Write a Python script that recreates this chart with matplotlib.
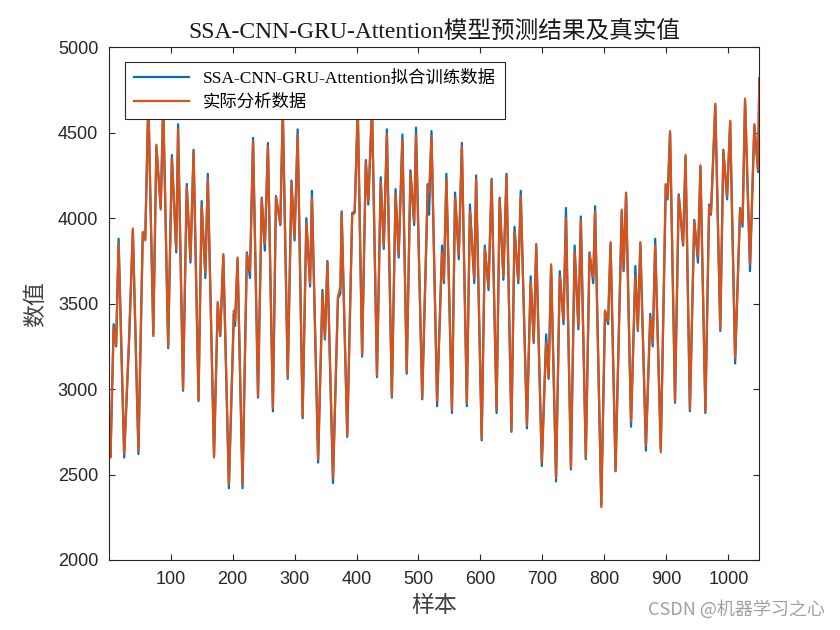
import matplotlib
matplotlib.use("Agg")
import matplotlib.pyplot as plt

# sample index of each turning point
sample_idx = [
    1, 3, 8, 12, 16, 25, 33, 39, 48, 55,
    59, 64, 72, 77, 84, 88, 96, 102, 109, 112,
    120, 126, 132, 137, 145, 150, 156, 160, 170, 176,
    180, 185, 194, 202, 204, 208, 216, 223, 228, 233,
    241, 247, 252, 257, 265, 270, 277, 281, 289, 295,
    300, 305, 313, 319, 325, 328, 338, 345, 349, 353,
    362, 370, 374, 376, 385, 393, 397, 402, 409, 415,
    419, 425, 433, 439, 444, 449, 457, 463, 468, 474,
    481, 487, 493, 496, 506, 515, 517, 521, 530, 538,
    541, 545, 554, 559, 565, 570, 578, 583, 590, 593,
    602, 607, 613, 618, 626, 631, 637, 642, 650, 655,
    661, 665, 675, 681, 686, 690, 699, 706, 710, 714,
    722, 728, 734, 738, 746, 752, 758, 762, 770, 776,
    782, 785, 795, 801, 806, 810, 818, 828, 831, 835,
    843, 850, 854, 858, 867, 874, 878, 882, 891, 899,
    902, 906, 914, 920, 927, 931, 938, 945, 951, 955,
    963, 969, 972, 979, 987, 992, 998, 1003, 1011, 1019,
    1023, 1027, 1035, 1042, 1048, 1050,
]

# actual values (orange)
actual = [
    2660, 2600, 3360, 3260, 3850, 2620, 3300, 3940, 2640, 3920,
    3870, 4700, 3310, 4430, 4050, 4680, 3250, 4350, 3820, 4520,
    3000, 4180, 3760, 4390, 2940, 4070, 3680, 4230, 2600, 3510,
    3320, 3790, 2440, 3460, 3400, 3770, 2440, 3790, 3690, 4450,
    2960, 4110, 3850, 4420, 2890, 4120, 3970, 4640, 3070, 4200,
    3890, 4490, 2840, 3970, 3620, 4120, 2590, 3560, 3300, 3740,
    2480, 3540, 3600, 4030, 2730, 4020, 4030, 4650, 3200, 4330,
    4100, 4660, 3080, 4210, 3840, 4490, 2960, 4140, 3790, 4460,
    3100, 4260, 3980, 4490, 2950, 4190, 4150, 4480, 2930, 3800,
    3640, 4230, 2880, 4120, 3790, 4420, 2920, 4040, 3650, 4230,
    2710, 3820, 3600, 4220, 2880, 4110, 3660, 4250, 2760, 3920,
    3640, 4130, 2790, 3630, 3280, 3850, 2570, 3270, 3070, 3730,
    2480, 3660, 3410, 4000, 2540, 3800, 3370, 3990, 2600, 3790,
    3650, 4040, 2310, 3460, 3400, 3860, 2520, 4050, 3700, 4150,
    2810, 3660, 3350, 3860, 2670, 3420, 3270, 3840, 2630, 4200,
    4120, 4510, 2930, 4130, 3850, 4370, 2880, 3980, 3780, 4310,
    2870, 4070, 4030, 4670, 3350, 4390, 4130, 4570, 3180, 4050,
    3970, 4700, 3730, 4550, 4280, 4820,
]

# fitted values (blue)
predicted = [
    2690, 2620, 3380, 3250, 3880, 2600, 3290, 3930, 2620, 3910,
    3880, 4690, 3320, 4420, 4060, 4670, 3240, 4370, 3800, 4550,
    2990, 4200, 3740, 4400, 2930, 4100, 3650, 4260, 2610, 3500,
    3310, 3780, 2420, 3440, 3370, 3760, 2420, 3800, 3650, 4470,
    2950, 4120, 3810, 4440, 2870, 4130, 3960, 4630, 3060, 4220,
    3870, 4520, 2830, 4000, 3600, 4160, 2570, 3580, 3290, 3750,
    2450, 3530, 3560, 4040, 2720, 4030, 4040, 4640, 3190, 4340,
    4080, 4650, 3070, 4240, 3820, 4520, 2950, 4170, 3770, 4490,
    3090, 4280, 3960, 4530, 2940, 4200, 4020, 4510, 2900, 3840,
    3620, 4260, 2860, 4150, 3760, 4440, 2900, 4080, 3620, 4250,
    2700, 3840, 3580, 4230, 2860, 4120, 3640, 4260, 2750, 3950,
    3620, 4160, 2770, 3660, 3270, 3840, 2550, 3320, 3060, 3720,
    2460, 3690, 3380, 4060, 2530, 3840, 3350, 4010, 2590, 3800,
    3620, 4070, 2320, 3450, 3380, 3850, 2520, 4040, 3690, 4140,
    2780, 3720, 3340, 3850, 2640, 3440, 3250, 3880, 2650, 4180,
    4110, 4500, 2920, 4140, 3840, 4360, 2870, 3990, 3740, 4300,
    2860, 4080, 4020, 4660, 3340, 4400, 4110, 4560, 3150, 4060,
    3950, 4690, 3690, 4540, 4270, 4810,
]

x_ticks = [100, 200, 300, 400, 500, 600, 700, 800, 900, 1000]
y_ticks = [2000, 2500, 3000, 3500, 4000, 4500, 5000]

serif = ["Liberation Serif", "Noto Sans CJK SC"]
cjk = ["Noto Sans CJK SC", "DejaVu Sans"]

fig = plt.figure(figsize=(8.4, 6.3), dpi=100)
ax = fig.add_axes([109.3 / 840, 1 - 560 / 630, 650 / 840, 512.7 / 630])

ax.plot(sample_idx, predicted, color="#0072BD", lw=1.6,
        label="SSA-CNN-GRU-Attention拟合训练数据")
ax.plot(sample_idx, actual, color="#D95319", lw=1.6, label="实际分析数据")

ax.set_xlim(1, 1050)
ax.set_ylim(2000, 5000)
ax.set_xticks(x_ticks)
ax.set_yticks(y_ticks)
ax.tick_params(direction="in", length=4, width=0.8, top=True, right=True,
               labelsize=13, colors="#262626", pad=8)
for lab in ax.get_xticklabels() + ax.get_yticklabels():
    lab.set_family(["Liberation Sans"])
for sp in ax.spines.values():
    sp.set_linewidth(0.8)
    sp.set_color("#262626")

ax.set_title("SSA-CNN-GRU-Attention模型预测结果及真实值", family=serif,
             fontsize=17, color="#1a1a1a", pad=7)
ax.set_xlabel("样本", family=cjk, fontsize=16.5, color="#404040", labelpad=4,
              fontweight="light")
ax.set_ylabel("数值", family=cjk, fontsize=16.5, color="#404040", labelpad=8,
              fontweight="light")

leg = ax.legend(loc="upper left", bbox_to_anchor=(0.024, 0.971),
                borderaxespad=0, fancybox=False, framealpha=1,
                edgecolor="#262626", prop={"family": serif, "size": 12.5},
                handlelength=3.2, borderpad=0.5, labelspacing=0.4)
leg.get_frame().set_linewidth(0.8)

fig.text(0.982, 0.033, "CSDN @机器学习之心", family=cjk, fontsize=13,
         color="#a0a0a0", ha="right", va="center")

fig.savefig("out.png", dpi=100)
